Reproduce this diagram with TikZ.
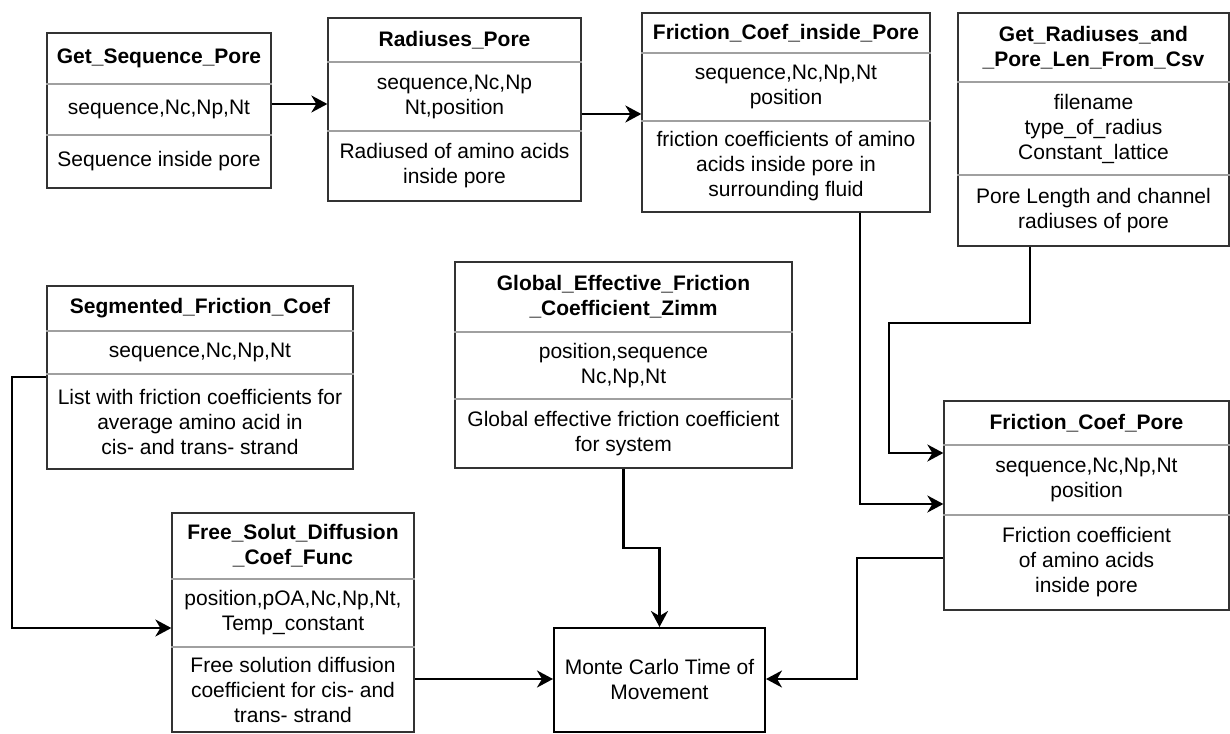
\documentclass[tikz,border=0pt]{standalone}
\usepackage{fontspec}
\setmainfont{Liberation Sans}
\usetikzlibrary{arrows.meta}
\definecolor{boxline}{HTML}{333333}
\definecolor{divline}{HTML}{A0A0A0}
\tikzset{
  box/.style={draw=boxline, line width=1.3pt, fill=white, inner sep=0pt, rectangle},
  mcbox/.style={draw=black, line width=2pt, fill=white, inner sep=0pt, rectangle},
  div/.style={draw=divline, line width=1.2pt},
  ttl/.style={font=\fontsize{21}{25}\selectfont\bfseries, align=center, inner sep=0pt},
  txt/.style={font=\fontsize{21}{25}\selectfont, align=center, inner sep=0pt},
  conn/.style={draw=black, line width=2.4pt, -{Stealth[length=16pt, width=17pt, inset=5pt]}},
}
\begin{document}
\begin{tikzpicture}[x=1pt, y=-1pt]
\useasboundingbox (0,0) rectangle (1230,733);

% ---- Get_Sequence_Pore ----
\node[box, minimum width=224pt, minimum height=155pt] (gsp) at (159,110.5) {};
\draw[div] (gsp.west |- 0,84) -- (gsp.east |- 0,84);
\draw[div] (gsp.west |- 0,135) -- (gsp.east |- 0,135);
\node[ttl] (gsp-t) at (159,58.5) {Get\_Sequence\_Pore};
\node[txt] (gsp-p) at (159,109.5) {sequence,Nc,Np,Nt};
\node[txt] (gsp-d) at (159,161.5) {Sequence inside pore};

% ---- Radiuses_Pore ----
\node[box, minimum width=253pt, minimum height=183pt] (rp) at (454.5,109.5) {};
\draw[div] (rp.west |- 0,62) -- (rp.east |- 0,62);
\draw[div] (rp.west |- 0,131) -- (rp.east |- 0,131);
\node[ttl] (rp-t) at (454.5,40) {Radiuses\_Pore};
\node[txt] (rp-p) at (454.5,96.5) {sequence,Nc,Np\\Nt,position};
\node[txt] (rp-d) at (454.5,166) {Radiused of amino acids\\inside pore};

% ---- Friction_Coef_inside_Pore ----
\node[box, minimum width=288pt, minimum height=199pt] (fcip) at (786,112.5) {};
\draw[div] (fcip.west |- 0,53) -- (fcip.east |- 0,53);
\draw[div] (fcip.west |- 0,121) -- (fcip.east |- 0,121);
\node[ttl] (fcip-t) at (786,33) {Friction\_Coef\_inside\_Pore};
\node[txt] (fcip-p) at (786,87) {sequence,Nc,Np,Nt\\position};
\node[txt] (fcip-d) at (786,166.5) {friction coefficients of amino\\acids inside pore in\\surrounding fluid};

% ---- Get_Radiuses_and_Pore_Len_From_Csv ----
\node[box, minimum width=271pt, minimum height=233pt] (grp) at (1093.5,129.5) {};
\draw[div] (grp.west |- 0,82) -- (grp.east |- 0,82);
\draw[div] (grp.west |- 0,175) -- (grp.east |- 0,175);
\node[ttl] (grp-t) at (1093.5,47.5) {Get\_Radiuses\_and\\\_Pore\_Len\_From\_Csv};
\node[txt] (grp-p) at (1093.5,128.5) {filename\\type\_of\_radius\\Constant\_lattice};
\node[txt] (grp-d) at (1093.5,210.5) {Pore Length and channel\\radiuses of pore};

% ---- Segmented_Friction_Coef ----
\node[box, minimum width=306pt, minimum height=183pt] (sfc) at (200,377.5) {};
\draw[div] (sfc.west |- 0,331) -- (sfc.east |- 0,331);
\draw[div] (sfc.west |- 0,374) -- (sfc.east |- 0,374);
\node[ttl] (sfc-t) at (200,308.5) {Segmented\_Friction\_Coef};
\node[txt] (sfc-p) at (200,352.5) {sequence,Nc,Np,Nt};
\node[txt] (sfc-d) at (200,421.5) {List with friction coefficients for\\average amino acid in\\cis- and trans- strand};

% ---- Global_Effective_Friction_Coefficient_Zimm ----
\node[box, minimum width=337pt, minimum height=206pt] (gef) at (623.5,365) {};
\draw[div] (gef.west |- 0,332) -- (gef.east |- 0,332);
\draw[div] (gef.west |- 0,399) -- (gef.east |- 0,399);
\node[ttl] (gef-t) at (623.5,297) {Global\_Effective\_Friction\\\_Coefficient\_Zimm};
\node[txt] (gef-p) at (623.5,365.5) {position,sequence\\Nc,Np,Nt};
\node[txt] (gef-d) at (623.5,433.5) {Global effective friction coefficient\\for system};

% ---- Free_Solut_Diffusion_Coef_Func ----
\node[box, minimum width=242pt, minimum height=219pt] (fsd) at (293,622.5) {};
\draw[div] (fsd.west |- 0,579) -- (fsd.east |- 0,579);
\draw[div] (fsd.west |- 0,647) -- (fsd.east |- 0,647);
\node[ttl] (fsd-t) at (293,546) {Free\_Solut\_Diffusion\\\_Coef\_Func};
\node[txt] (fsd-p) at (293,613) {position,pOA,Nc,Np,Nt,\\Temp\_constant};
\node[txt] (fsd-d) at (293,690) {Free solution diffusion\\coefficient for cis- and\\trans- strand};

% ---- Monte Carlo Time of Movement ----
\node[mcbox, minimum width=211pt, minimum height=104pt] (mc) at (659.5,680) {};
\node[txt] (mc-t) at (659.5,679) {Monte Carlo Time of\\Movement};

% ---- Friction_Coef_Pore ----
\node[box, minimum width=285pt, minimum height=209pt] (fcp) at (1086.5,505.5) {};
\draw[div] (fcp.west |- 0,445) -- (fcp.east |- 0,445);
\draw[div] (fcp.west |- 0,515) -- (fcp.east |- 0,515);
\node[ttl] (fcp-t) at (1086.5,423) {Friction\_Coef\_Pore};
\node[txt] (fcp-p) at (1086.5,480) {sequence,Nc,Np,Nt\\position};
\node[txt] (fcp-d) at (1086.5,562.5) {Friction coefficient\\of amino acids\\inside pore};

% ---- connectors ----
\coordinate (b1) at (1030,323);
\coordinate (b2) at (889,323);
\coordinate (b3) at (12,377);
\coordinate (b4) at (857,558);

\draw[conn] (gsp.east |- 0,104) -- (rp.west |- 0,104);
\draw[conn] (rp.east |- 0,114) -- (fcip.west |- 0,114);
\draw[conn] (fcip.south -| 860,0) -- (860,504) -- (fcp.west |- 0,504);
\draw[conn] (grp.south -| b1) -- (b1) -- (b2) -- (b2 |- 0,453) -- (fcp.west |- 0,453);
\draw[conn] (sfc.west |- b3) -- (b3) -- (b3 |- 0,628) -- (fsd.west |- 0,628);
\draw[conn] (gef.south) -- (gef.south |- 0,548) -- (mc.north |- 0,548) -- (mc.north);
\draw[conn] (fsd.east |- 0,679) -- (mc.west |- 0,679);
\draw[conn] (fcp.west |- b4) -- (b4) -- (b4 |- 0,679) -- (mc.east |- 0,679);
\end{tikzpicture}
\end{document}
